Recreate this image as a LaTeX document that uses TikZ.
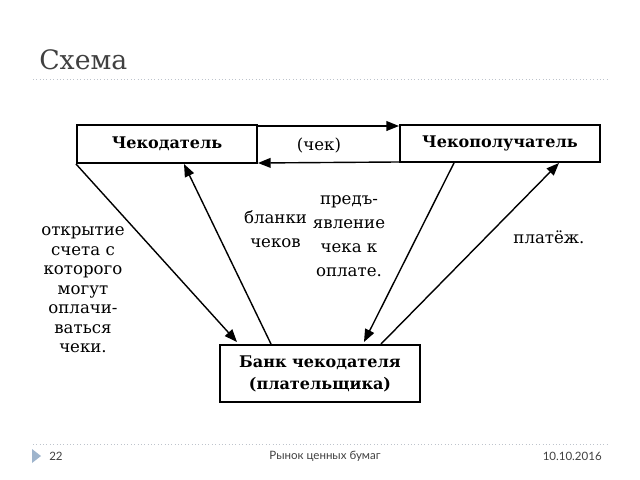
\documentclass[tikz,border=0pt]{standalone}
\usepackage{fontspec}
\setmainfont{DejaVu Serif}
\newfontfamily\footfont{Lato}
\usetikzlibrary{arrows.meta,calc}

\definecolor{titlegray}{RGB}{64,64,64}
\definecolor{rulegray}{RGB}{190,196,204}
\definecolor{markblue}{RGB}{158,180,204}

\begin{document}
\begin{tikzpicture}[x=0.025cm, y=-0.025cm, >={Triangle[length=9pt,width=7pt]},
    box/.style={draw, line width=1.4pt, inner sep=0pt, align=center,
      font=\fontsize{11.4}{15.6}\selectfont\bfseries},
    link/.style={->, line width=1pt},
    lbl/.style={inner sep=0pt, align=center, font=\fontsize{11.8}{13.9}\selectfont},
    foot/.style={inner sep=0pt, text=titlegray, font=\footfont\fontsize{8.2}{9}\selectfont}]
    \useasboundingbox (0,0) rectangle (640,480);

    % Заголовок
    \node[anchor=base west, inner sep=0pt, text=titlegray,
      font=\fontsize{19}{22}\selectfont] (title) at (39,69) {Схема};
    \draw[rulegray, dotted, thin] (33,79) -- (607,79);

    % Участники
    \node[box, minimum width=4.5cm, minimum height=0.95cm] (drawer) at (167,144) {Чекодатель};
    \node[box, minimum width=5cm, minimum height=0.925cm] (payee) at (500,143.5) {Чекополучатель};
    \node[box, minimum width=5cm, minimum height=1.425cm] (bank) at (320,373.5)
      {Банк чекодателя\\(плательщика)};

    % Чек
    \draw[link] ($(drawer.north east)+(0,2)$) -- ($(payee.north west)+(0,2)$);
    \draw[link] ($(payee.south west)+(0,-1)$) -- ($(drawer.south east)+(0,-1)$);
    \node[lbl] (cheque) at (319,145) {(чек)};

    % Связи с банком
    \draw[link] (drawer.south west) -- ($(bank.north west)+(18,-2)$);
    \draw[link] ($(bank.north west)+(52,0)$) -- ($(drawer.south west)+(108,0)$);
    \draw[link] ($(payee.south west)+(55,0)$) -- ($(bank.north west)+(145,-2)$);
    \draw[link] ($(bank.north west)+(162,0)$) -- ($(payee.south west)+(160,0)$);

    % Подписи
    \node[lbl] (opening) at (83,290)
      {открытие\\счета с\\которого\\могут\\оплачи-\\ваться\\чеки.};
    \node[lbl, font=\fontsize{11.8}{17}\selectfont] (blanks) at (275.5,229) {бланки\\чеков};
    \node[lbl, font=\fontsize{11.8}{17}\selectfont] (present) at (349,236)
      {предъ-\\явление\\чека к\\оплате.};
    \node[lbl] (payment) at (549,237) {платёж.};

    % Нижний колонтитул
    \draw[rulegray, dotted, thin] (33,444) -- (607,444);
    \fill[markblue] (32,449) -- (41,456) -- (32,463) -- cycle;
    \node[foot, anchor=west] (page) at (49,456) {22};
    \node[foot] (course) at (325,456) {Рынок ценных бумаг};
    \node[foot, anchor=east] (date) at (602,456) {10.10.2016};
\end{tikzpicture}
\end{document}
